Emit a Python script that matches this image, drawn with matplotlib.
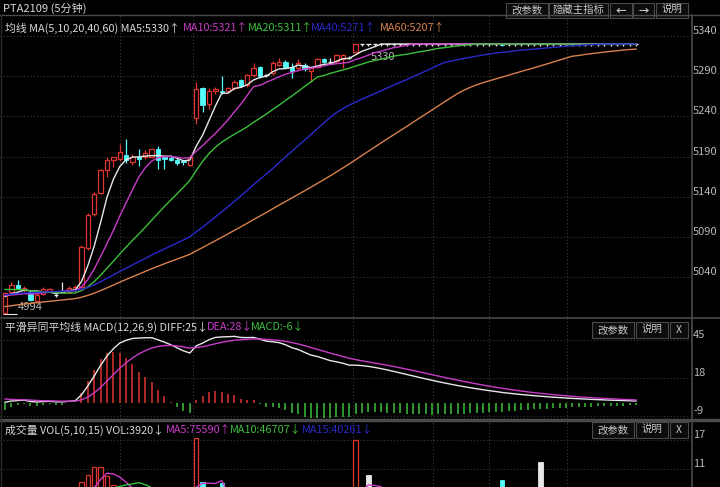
import matplotlib
matplotlib.use("Agg")
import matplotlib.pyplot as plt
import pandas as pd
from matplotlib.patches import Rectangle
from matplotlib.lines import Line2D

plt.rcParams["font.family"] = ["Noto Sans CJK SC", "DejaVu Sans"]

W, H = 720, 487

# closes before the first visible bar, only used to warm up MA / MACD
prior_closes = [4958,
                4960, 4962, 4965, 4968, 4966, 4970, 4972, 4971, 4974, 4976,
                4975, 4978, 4977, 4980, 4979, 4982, 4981, 4984, 4983, 4986,
                4990, 4995, 4998, 5000, 5003, 5005, 5008, 5010, 5012, 5011,
                5013, 5015, 5016, 5018, 5017, 5019, 5020, 5022, 5024, 5026,
                5028, 5030, 5033, 5035, 5034, 5036, 5033, 5032, 5030, 5029,
                5024, 5020, 5018, 5016, 5015, 5014, 5016, 5015, 5015]

# 5-minute bars, PTA2109
opens = [4996, 5022, 5030, 5024, 5022, 5010, 5019, 5023, 5018, 5022, 5022, 5024,
         5028, 5076, 5118, 5145, 5173, 5186, 5187, 5192, 5183, 5190, 5189, 5190,
         5199, 5189, 5188, 5186, 5184, 5180, 5238, 5275, 5256, 5271, 5271, 5271,
         5275, 5285, 5279, 5291, 5302, 5291, 5294, 5304, 5308, 5302, 5300, 5304,
         5296, 5302, 5311, 5308, 5309, 5311, 5313, 5320,
         5330, 5330, 5330, 5330, 5330, 5330, 5330, 5330, 5330, 5330, 5330,
         5330, 5330, 5330, 5330, 5330, 5330, 5330, 5330, 5330, 5330, 5330,
         5330, 5330, 5330, 5330, 5330, 5330, 5330, 5330, 5330, 5330, 5330,
         5330, 5330, 5330, 5330, 5330, 5330, 5330, 5330, 5330, 5330, 5330]
highs = [5021, 5034, 5036, 5029, 5024, 5020, 5028, 5027, 5022, 5034, 5029, 5030,
         5080, 5120, 5146, 5174, 5190, 5190, 5206, 5212, 5193, 5199, 5198, 5200,
         5203, 5190, 5192, 5190, 5186, 5192, 5283, 5277, 5275, 5277, 5290, 5277,
         5285, 5287, 5293, 5307, 5303, 5293, 5309, 5312, 5310, 5306, 5311, 5307,
         5302, 5313, 5313, 5313, 5318, 5318, 5315, 5330,
         5330, 5330, 5330, 5330, 5330, 5330, 5330, 5330, 5330, 5330, 5330,
         5330, 5330, 5330, 5330, 5330, 5330, 5330, 5330, 5330, 5330, 5330,
         5330, 5330, 5330, 5330, 5330, 5330, 5330, 5330, 5330, 5330, 5330,
         5330, 5330, 5330, 5330, 5330, 5330, 5330, 5330, 5330, 5330, 5330]
lows = [4994, 5021, 5026, 5022, 5010, 5009, 5018, 5021, 5015, 5021, 5020, 5022,
        5026, 5074, 5116, 5143, 5165, 5177, 5184, 5182, 5180, 5178, 5187, 5188,
        5175, 5175, 5184, 5180, 5180, 5178, 5230, 5245, 5249, 5268, 5268, 5269,
        5273, 5276, 5277, 5289, 5288, 5289, 5292, 5303, 5300, 5288, 5298, 5296,
        5283, 5300, 5306, 5305, 5307, 5300, 5311, 5318,
        5328, 5327, 5328, 5328, 5328, 5328, 5328, 5328, 5328, 5328, 5328,
        5328, 5328, 5328, 5328, 5328, 5328, 5328, 5328, 5328, 5328, 5328,
        5327, 5328, 5328, 5328, 5328, 5328, 5328, 5328, 5328, 5328, 5328,
        5328, 5328, 5328, 5328, 5328, 5328, 5328, 5328, 5328, 5328, 5328]
closes = [5020, 5030, 5027, 5027, 5012, 5018, 5025, 5025, 5018, 5022, 5027, 5028,
          5078, 5117, 5144, 5173, 5186, 5189, 5196, 5186, 5190, 5187, 5194, 5199,
          5186, 5187, 5186, 5182, 5183, 5190, 5274, 5254, 5272, 5274, 5270, 5275,
          5283, 5278, 5291, 5300, 5290, 5291, 5306, 5308, 5302, 5297, 5306, 5299,
          5300, 5311, 5308, 5308, 5316, 5316, 5313, 5330,
          5330, 5330, 5330, 5330, 5330, 5330, 5330, 5330, 5330, 5330, 5330,
          5330, 5330, 5330, 5330, 5330, 5330, 5330, 5330, 5330, 5330, 5330,
          5329, 5330, 5330, 5330, 5330, 5330, 5330, 5330, 5330, 5330, 5330,
          5330, 5330, 5330, 5330, 5330, 5330, 5330, 5330, 5330, 5330, 5330]
volumes = [4.5, 3.2, 2.8, 2.5, 4.0, 3.5, 2.6, 2.2, 2.4, 3.0, 2.8, 3.0,
           8.3, 9.7, 11.4, 11.4, 9.5, 7.5, 6.5, 6.0, 5.0, 5.5, 4.0, 3.5,
           4.5, 3.5, 4.0, 4.5, 4.5, 5.0, 17.5, 8.3, 4.5, 4.2, 8.0, 4.0,
           4.5, 3.5, 4.0, 4.5, 3.8, 2.5, 3.8, 3.0, 3.2, 3.6, 3.0, 2.8,
           3.4, 3.2, 2.6, 2.4, 3.0, 3.8, 3.8, 17.0,
           3.8, 9.7, 3.2, 2.5, 2.2, 3.0, 2.0, 1.8, 2.4, 2.0, 1.6,
           3.5, 2.2, 1.8, 1.5, 2.0, 1.7, 2.3, 1.5, 1.4, 2.8, 1.6,
           8.6, 2.0, 1.5, 1.8, 1.4, 1.6, 12.4, 2.2, 1.5, 1.3, 2.6,
           1.6, 1.4, 1.2, 1.8, 1.3, 1.2, 1.5, 1.1, 1.3, 1.0, 1.2]

price_ticks = [5340, 5290, 5240, 5190, 5140, 5090, 5040]
macd_ticks = [45, 18, -9]
vol_ticks = [17, 11]
session_marks = [18, 29.5, 54.6, 67.1, 76, 88.2]

BG = "black"
RED = "#e0342e"
CYAN = "#54fcfc"
WHITE = "#e8e8e8"
MAGENTA = "#c83cc8"
GREEN = "#3cc03c"
BLUE = "#2a2acc"
ORANGE = "#d8804c"
GRID = "#3a3a3a"
FRAME = "#4a4a4a"
LABEL = "#b8b8b8"

df = pd.DataFrame({"open": opens, "high": highs, "low": lows,
                   "close": closes, "vol": volumes})
x = df.index.values
df["color"] = [RED if c > o else (CYAN if c < o else WHITE)
               for o, c in zip(df.open, df.close)]

# indicators on the full close history, then keep the visible part
n_prior = len(prior_closes)
full = pd.Series(prior_closes + closes, dtype=float)
ma_cfg = [(5, WHITE), (10, MAGENTA), (20, GREEN), (40, BLUE), (60, ORANGE)]
mas = {n: full.rolling(n, min_periods=1).mean().iloc[n_prior:].values
       for n, _ in ma_cfg}
ema12 = full.ewm(span=12, adjust=False).mean()
ema26 = full.ewm(span=26, adjust=False).mean()
diff_full = ema12 - ema26
dea_full = diff_full.ewm(span=9, adjust=False).mean()
diff = diff_full.iloc[n_prior:].values
dea = dea_full.iloc[n_prior:].values
macd = 2 * (diff - dea)


def frac(x0, y0, x1, y1):
    return [x0 / W, 1 - y1 / H, (x1 - x0) / W, (y1 - y0) / H]


fig = plt.figure(figsize=(7.2, 4.87), dpi=100, facecolor=BG)
ax_p = fig.add_axes(frac(0, 15, 691, 317))
ax_m = fig.add_axes(frac(0, 318, 691, 419))
ax_v = fig.add_axes(frac(0, 420, 691, 487))

XLIM = (-0.784, 107.62)
for ax, ticks, ylim in [(ax_p, price_ticks, (4990.5, 5366.1)),
                        (ax_m, macd_ticks, (-11.2, 60.6)),
                        (ax_v, vol_ticks, (7.17, 21.2))]:
    ax.set_facecolor(BG)
    ax.set_xlim(*XLIM)
    ax.set_ylim(*ylim)
    ax.set_xticks([])
    ax.set_yticks([])
    for s in ax.spines.values():
        s.set_visible(False)
    for t in ticks:
        ax.axhline(t, color=GRID, lw=0.8, ls=(0, (1, 2)), zorder=0)
        ax.text(693 / 691, t, str(t), transform=ax.get_yaxis_transform(),
                color=LABEL, fontsize=8, ha="left", va="bottom")
    for m in session_marks:
        ax.axvline(m, color=GRID, lw=0.8, ls=(0, (1, 2)), zorder=0)

# candles
bw = 0.68
ax_p.vlines(x, df.low, df.high, colors=df.color, lw=0.9, zorder=2)
body_lo = df[["open", "close"]].min(axis=1)
body_h = (df.close - df.open).abs()
up = df.close > df.open
dn = df.close < df.open
flat = df.close == df.open
ax_p.bar(x[up], body_h[up], bottom=body_lo[up], width=bw, facecolor=BG,
         edgecolor=RED, lw=0.9, zorder=3)
ax_p.bar(x[dn], body_h[dn], bottom=body_lo[dn], width=bw, facecolor=CYAN,
         edgecolor=CYAN, lw=0.6, zorder=3)
ax_p.hlines(df.close[flat], x[flat] - bw / 2, x[flat] + bw / 2, colors=WHITE,
            lw=1, zorder=3)
for n, col in ma_cfg:
    ax_p.plot(x, mas[n], color=col, lw=1, zorder=4)
ax_p.text(2.0, 5003, "4994", color=LABEL, fontsize=8, va="center", ha="left")
ax_p.hlines(4994, -0.3, 1.9, colors=WHITE, lw=0.8)
ax_p.text(57.3, 5314, "5330", color=LABEL, fontsize=8, va="center", ha="left")

# MACD
ax_m.vlines(x, 0, macd, colors=[RED if v >= 0 else GREEN for v in macd],
            lw=1.1, zorder=2)
ax_m.plot(x, diff, color=WHITE, lw=1, zorder=3)
ax_m.plot(x, dea, color=MAGENTA, lw=1, zorder=3)

# volume
vup = df.color == RED
ax_v.bar(x[vup], df.vol[vup], width=bw, facecolor=BG, edgecolor=RED, lw=0.9)
ax_v.bar(x[~vup], df.vol[~vup], width=bw, facecolor=df.color[~vup],
         edgecolor=df.color[~vup], lw=0.6)
for n, col in [(5, MAGENTA), (10, GREEN), (15, BLUE)]:
    ax_v.plot(x, df.vol.rolling(n, min_periods=1).mean(), color=col, lw=1)

# frame lines
for y0, lw in [(14.5, 1), (317.5, 1.2), (419.5, 2.5)]:
    fig.add_artist(Line2D([0, 1], [1 - y0 / H] * 2, transform=fig.transFigure,
                          color=FRAME, lw=lw))
fig.add_artist(Line2D([691.5 / W] * 2, [0, 1 - 14.5 / H],
                      transform=fig.transFigure, color=FRAME, lw=1.2))
fig.add_artist(Line2D([0.8 / W] * 2, [0, 1 - 14.5 / H],
                      transform=fig.transFigure, color="#2a2a2a", lw=1))


def ftext(x0, y0, s, color, size=7.8, **kw):
    fig.text(x0 / W, 1 - y0 / H, s, color=color, fontsize=size,
             ha="left", va="center", **kw)


def button(x0, y0, x1, y1, label, **kw):
    fig.add_artist(Rectangle((x0 / W, 1 - y1 / H), (x1 - x0) / W, (y1 - y0) / H,
                             transform=fig.transFigure, facecolor="#0c0c0c",
                             edgecolor=FRAME, lw=0.8))
    fig.text((x0 + x1) / 2 / W, 1 - (y0 + y1) / 2 / H, label, color="#c8c8c8",
             fontsize=7.5, ha="center", va="center", **kw)


ftext(3, 8, "PTA2109 (5分钟)", "#d8d8d8", 8)
ftext(5, 28, "均线 MA(5,10,20,40,60) MA5:5330↑", "#d8d8d8")
ftext(183, 28, "MA10:5321↑", MAGENTA)
ftext(248, 28, "MA20:5311↑", GREEN)
ftext(311, 28, "MA40:5271↑", BLUE)
ftext(380, 28, "MA60:5207↑", ORANGE)

ftext(5, 327, "平滑异同平均线 MACD(12,26,9) DIFF:25↓", "#d8d8d8")
ftext(207, 327, "DEA:28↓", MAGENTA)
ftext(251, 327, "MACD:-6↓", GREEN)

ftext(5, 430, "成交量 VOL(5,10,15) VOL:3920↓", "#d8d8d8")
ftext(166, 430, "MA5:75590↑", MAGENTA)
ftext(230, 430, "MA10:46707↓", GREEN)
ftext(302, 430, "MA15:40261↓", BLUE)

button(506, 3, 548, 17.5, "改参数")
button(549, 3, 608, 17.5, "隐藏主指标")
button(610, 3, 632, 17.5, "←", fontweight="bold")
button(633, 3, 654, 17.5, "→", fontweight="bold")
button(656, 3, 688, 17.5, "说明")
for y0 in (322, 422):
    button(592, y0, 634, y0 + 15.5, "改参数")
    button(636, y0, 668, y0 + 15.5, "说明")
    button(670, y0, 688, y0 + 15.5, "X")

fig.savefig("out.png", dpi=100, facecolor=BG)
